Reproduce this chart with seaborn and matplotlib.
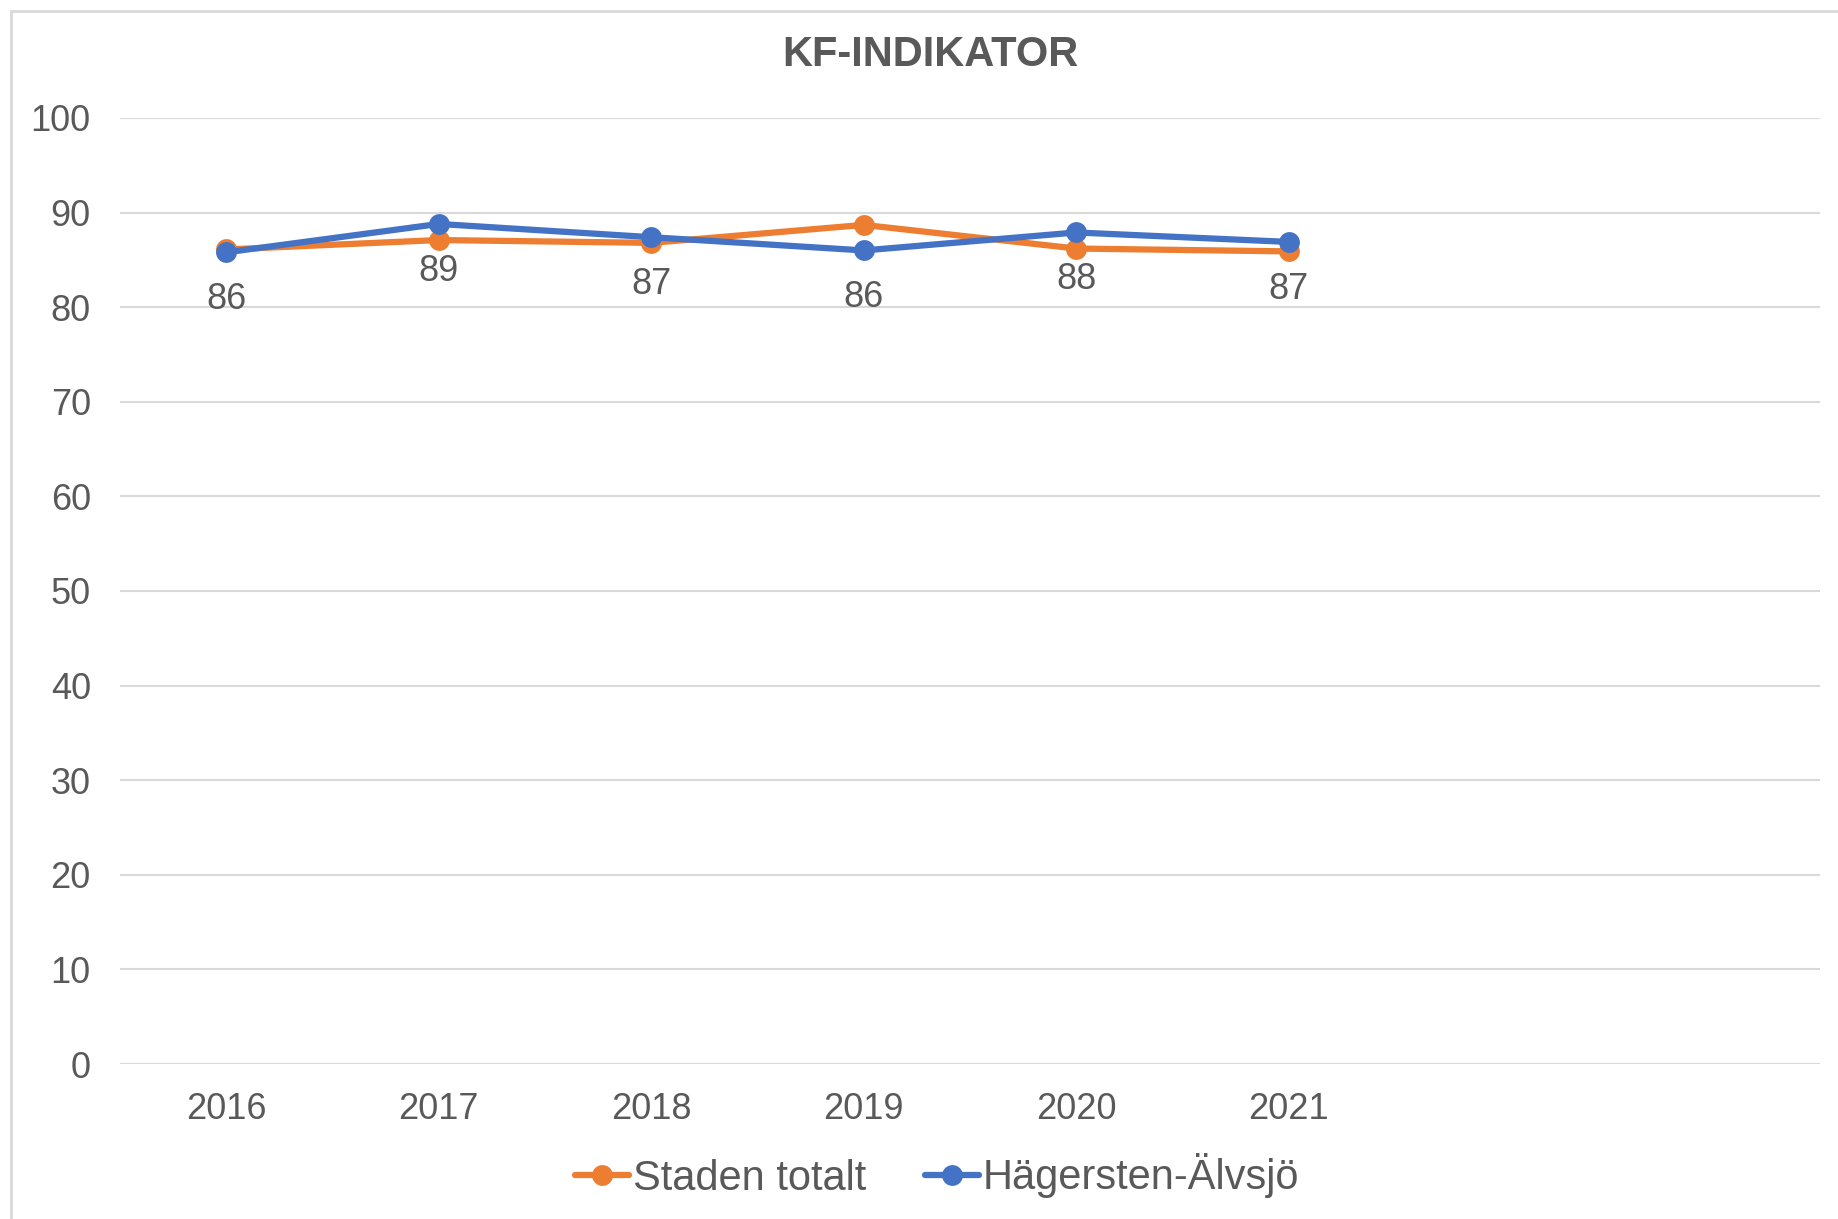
import pandas as pd
import matplotlib.pyplot as plt
import seaborn as sns
from matplotlib.patches import Rectangle

#### DATA

years = [2016, 2017, 2018, 2019, 2020, 2021]
staden_totalt = [86.1, 87.1, 86.8, 88.7, 86.2, 85.9]
hagersten_alvsjo = [85.8, 88.8, 87.4, 86.0, 87.9, 86.9]
hagersten_labels = ["86", "89", "87", "86", "88", "87"]
series_names = ["Staden totalt", "Hägersten-Älvsjö"]
title = "KF-INDIKATOR"

df = pd.concat([
    pd.DataFrame({"År": years, "Värde": staden_totalt, "Serie": series_names[0]}),
    pd.DataFrame({"År": years, "Värde": hagersten_alvsjo, "Serie": series_names[1]}),
])

#### STYLE

sns.set_theme(style="white")
plt.rcParams['font.family'] = ['Liberation Sans', 'DejaVu Sans']
gray_text = "#595959"
grid_col = "#D9D9D9"
palette = {series_names[0]: "#ED7D31", series_names[1]: "#4472C4"}

#### PLOT

fig = plt.figure(figsize=(18.38, 12.19), dpi=100)
ax = fig.add_axes([120 / 1838, 1 - 1064 / 1219, (1820 - 120) / 1838, (1064 - 118) / 1219])

sns.lineplot(data=df, x="År", y="Värde", hue="Serie", palette=palette,
             marker="o", markersize=15, markeredgewidth=0, linewidth=4.5, ax=ax)

# data labels under the district series
for x, y, lab in zip(years, hagersten_alvsjo, hagersten_labels):
    ax.annotate(lab, (x, y), xytext=(0, -34), textcoords="offset points",
                ha="center", va="center", fontsize=26, color=gray_text)

ax.set_ylim(0, 100)
ax.set_yticks(range(0, 101, 10))
ax.set_xlim(2015.5, 2023.5)
ax.set_xticks(years)
ax.set_xticklabels([str(y) for y in years])
ax.set_xlabel("")
ax.set_ylabel("")
ax.yaxis.grid(True, color=grid_col, linewidth=1.5)
ax.set_axisbelow(True)
for s in ax.spines.values():
    s.set_visible(False)
ax.tick_params(axis="x", length=0, pad=20, labelsize=26, labelcolor=gray_text)
ax.tick_params(axis="y", length=0, pad=21, labelsize=26, labelcolor=gray_text)

fig.text(930 / 1838, 1 - 55 / 1219, title, ha="center", va="center",
         fontsize=30, fontweight="bold", color=gray_text)

handles, labels = ax.get_legend_handles_labels()
ax.get_legend().remove()
fig.legend(handles, labels, loc="center", bbox_to_anchor=(937 / 1838, 1 - 1176 / 1219),
           ncol=2, frameon=False, fontsize=30, handlelength=1.3, handletextpad=0.1,
           columnspacing=1.4, labelcolor=gray_text)

# outer chart border
fig.patches.append(Rectangle((11 / 1838, -0.1), 1.2, 1.1 - 11 / 1219,
                             transform=fig.transFigure, fill=False,
                             edgecolor=grid_col, linewidth=2))

fig.savefig("out.png", dpi=100)
